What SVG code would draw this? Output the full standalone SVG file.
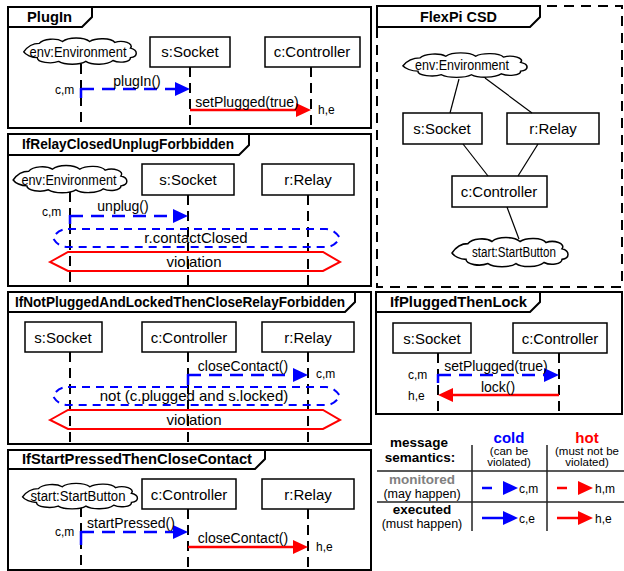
<svg xmlns="http://www.w3.org/2000/svg" xmlns:xlink="http://www.w3.org/1999/xlink" width="624" height="571" viewBox="0 0 624 571">
<style>
text{font-family:"Liberation Sans",Arial,sans-serif;fill:#000}
.frame{fill:none;stroke:#000;stroke-width:2}
.dframe{fill:none;stroke:#000;stroke-width:2;stroke-dasharray:10 7}
.ll{stroke:#000;stroke-width:2;stroke-dasharray:10 6;fill:none}
.node{fill:#fff;stroke:#000;stroke-width:1.5}
.cloud{fill:#fff;stroke:#000;stroke-width:1.5}
.lbl{font-size:15px}
.cl{font-size:14px}
.msg{font-size:14px}
.sm{font-size:12px}
.title{font-weight:bold;font-size:14px}
.cold{stroke:#00f;stroke-width:2.5;stroke-dasharray:13 8;fill:none}
.coldv{stroke:#00f;stroke-width:2.5;fill:none}
.hot{stroke:#f00;stroke-width:2.5;fill:none}
.cond{fill:none;stroke:#00f;stroke-width:2;stroke-dasharray:8 6}
.viol{fill:none;stroke:#f00;stroke-width:2}
.edge{stroke:#000;stroke-width:1.2;fill:none}
.sep{stroke:#222;stroke-width:1.5}
.mid{text-anchor:middle}
.par{font-size:11.5px}
.hd{font-weight:bold;font-size:13.5px}
.sub{font-size:12.5px}
</style>
<defs>
<marker id="ab" markerUnits="userSpaceOnUse" markerWidth="16" markerHeight="14" refX="0" refY="7" orient="auto" overflow="visible"><path d="M0,0 L15,7 L0,14 z" fill="#00f"/></marker>
<marker id="ar" markerUnits="userSpaceOnUse" markerWidth="16" markerHeight="14" refX="0" refY="7" orient="auto" overflow="visible"><path d="M0,0 L15,7 L0,14 z" fill="#f00"/></marker>
<path id="cloudp" d="M-58,1 C-54,-5 -48,-8 -42,-8 C-38,-13 -24,-14 -18,-10 C-12,-15 4,-15 10,-10 C16,-14 32,-14 36,-9 C44,-12 56,-8 52,-3 C60,-1 60,6 52,7 C52,12 40,13 34,10 C28,15 12,15 6,11 C0,15 -16,15 -22,11 C-30,14 -44,12 -44,7 C-50,7 -56,4 -58,1 Z"/>
</defs>
<rect width="624" height="571" fill="#fff"/>

<!-- Frames -->
<g id="frame-plugin">
<rect class="frame" x="8" y="7" width="363" height="121"/>
<path class="frame" d="M8,27 H82 L92,17 V7"/>
<text class="title" x="27" y="22" textLength="45" lengthAdjust="spacingAndGlyphs">PlugIn</text>
</g>
<g id="frame-relay">
<rect class="frame" x="8" y="134" width="363" height="152"/>
<path class="frame" d="M8,155 H239 L249,145 V134"/>
<text class="title" x="22" y="149" textLength="212" lengthAdjust="spacingAndGlyphs">IfRelayClosedUnplugForbbidden</text>
</g>
<g id="frame-notplugged">
<rect class="frame" x="8" y="292" width="363" height="152"/>
<path class="frame" d="M8,312 H345 L355,302 V292"/>
<text class="title" x="15" y="307" textLength="330" lengthAdjust="spacingAndGlyphs">IfNotPluggedAndLockedThenCloseRelayForbidden</text>
</g>
<g id="frame-start">
<rect class="frame" x="8" y="450" width="363" height="120"/>
<path class="frame" d="M8,469 H255 L265,459 V450"/>
<text class="title" x="22" y="464" textLength="230" lengthAdjust="spacingAndGlyphs">IfStartPressedThenCloseContact</text>
</g>
<g id="frame-csd">
<rect class="dframe" x="377" y="6" width="245" height="281"/>
<path class="frame" d="M377,27 H530 L540,17 V6 H377 Z"/>
<text class="title" x="420" y="22" textLength="77" lengthAdjust="spacingAndGlyphs">FlexPi CSD</text>
</g>
<g id="frame-lock">
<rect class="frame" x="376" y="292" width="246" height="122"/>
<path class="frame" d="M376,312 H530 L540,302 V292"/>
<text class="title" x="390" y="307" textLength="137" lengthAdjust="spacingAndGlyphs">IfPluggedThenLock</text>
</g>

<!-- Lifelines -->
<g id="lifelines">
<line class="ll" x1="81" y1="64" x2="81" y2="128"/>
<line class="ll" x1="190" y1="67" x2="190" y2="128"/>
<line class="ll" x1="311" y1="67" x2="311" y2="128"/>
<line class="ll" x1="70" y1="192" x2="70" y2="285"/>
<line class="ll" x1="188" y1="195" x2="188" y2="285"/>
<line class="ll" x1="308" y1="195" x2="308" y2="285"/>
<line class="ll" x1="70" y1="352" x2="70" y2="443"/>
<line class="ll" x1="188" y1="352" x2="188" y2="443"/>
<line class="ll" x1="308" y1="352" x2="308" y2="443"/>
<line class="ll" x1="81" y1="507" x2="81" y2="569"/>
<line class="ll" x1="188" y1="509" x2="188" y2="569"/>
<line class="ll" x1="308" y1="509" x2="308" y2="569"/>
<line class="ll" x1="438" y1="353" x2="438" y2="413"/>
<line class="ll" x1="559" y1="353" x2="559" y2="413"/>
</g>

<!-- Nodes: PlugIn -->
<g id="p-env"><use xlink:href="#cloudp" class="cloud" transform="translate(80,51) scale(0.97,0.95)"/><text class="cl mid" x="78" y="57" textLength="97" lengthAdjust="spacingAndGlyphs">env:Environment</text></g>
<g id="p-socket"><rect class="node" x="150" y="37" width="80" height="30"/><text class="lbl mid" x="190" y="57">s:Socket</text></g>
<g id="p-controller"><rect class="node" x="265" y="37" width="95" height="30"/><text class="lbl mid" x="312" y="57">c:Controller</text></g>

<!-- Nodes: IfRelayClosedUnplugForbbidden -->
<g id="r-env"><use xlink:href="#cloudp" class="cloud" transform="translate(70,179) scale(0.98,0.98)"/><text class="cl mid" x="69" y="185" textLength="95" lengthAdjust="spacingAndGlyphs">env:Environment</text></g>
<g id="r-socket"><rect class="node" x="142" y="164" width="92" height="31"/><text class="lbl mid" x="188" y="185">s:Socket</text></g>
<g id="r-relay"><rect class="node" x="262" y="164" width="92" height="31"/><text class="lbl mid" x="308" y="185">r:Relay</text></g>
<g id="r-cond"><path class="cond" d="M68,229 H326 Q334,229 340,238 Q334,247 326,247 H68 Q58,247 53,238 Q58,229 68,229 Z"/><text class="lbl mid" x="196" y="243">r.contactClosed</text></g>
<g id="r-viol"><polygon class="viol" points="50,262 68,252 323,252 340,262 323,271 68,271"/><text class="lbl mid" x="194" y="267">violation</text></g>

<!-- Nodes: IfNotPluggedAndLockedThenCloseRelayForbidden -->
<g id="n-socket"><rect class="node" x="25" y="322" width="77" height="30"/><text class="lbl mid" x="63" y="343">s:Socket</text></g>
<g id="n-controller"><rect class="node" x="142" y="322" width="94" height="30"/><text class="lbl mid" x="189" y="343">c:Controller</text></g>
<g id="n-relay"><rect class="node" x="262" y="322" width="92" height="30"/><text class="lbl mid" x="308" y="343">r:Relay</text></g>
<g id="n-cond"><path class="cond" d="M68,387 H326 Q334,387 340,396 Q334,405 326,405 H68 Q58,405 53,396 Q58,387 68,387 Z"/><text class="lbl mid" x="194" y="401">not (c.plugged and s.locked)</text></g>
<g id="n-viol"><polygon class="viol" points="50,420 68,410 323,410 340,420 323,429 68,429"/><text class="lbl mid" x="194" y="425">violation</text></g>

<!-- Nodes: IfStartPressedThenCloseContact -->
<g id="s-start"><use xlink:href="#cloudp" class="cloud" transform="translate(80,496) scale(0.99,0.92)"/><text class="cl mid" x="78" y="501" textLength="95" lengthAdjust="spacingAndGlyphs">start:StartButton</text></g>
<g id="s-controller"><rect class="node" x="142" y="479" width="94" height="30"/><text class="lbl mid" x="189" y="500">c:Controller</text></g>
<g id="s-relay"><rect class="node" x="262" y="479" width="92" height="30"/><text class="lbl mid" x="308" y="500">r:Relay</text></g>

<!-- Nodes: FlexPi CSD -->
<g id="c-env"><use xlink:href="#cloudp" class="cloud" transform="translate(465,65) scale(1.07,0.88)"/><text class="cl mid" x="462" y="70" textLength="94" lengthAdjust="spacingAndGlyphs">env:Environment</text></g>
<g id="c-socket"><rect class="node" x="403" y="113" width="79" height="31"/><text class="lbl mid" x="442" y="134">s:Socket</text></g>
<g id="c-relay"><rect class="node" x="507" y="113" width="92" height="31"/><text class="lbl mid" x="553" y="134">r:Relay</text></g>
<g id="c-controller"><rect class="node" x="452" y="176" width="95" height="31"/><text class="lbl mid" x="499" y="197">c:Controller</text></g>
<g id="c-start"><use xlink:href="#cloudp" class="cloud" transform="translate(510,252) scale(1.0,1.05)"/><text class="cl mid" x="514" y="257" textLength="84" lengthAdjust="spacingAndGlyphs">start:StartButton</text></g>

<!-- Nodes: IfPluggedThenLock -->
<g id="l-socket"><rect class="node" x="393" y="323" width="78" height="30"/><text class="lbl mid" x="432" y="344">s:Socket</text></g>
<g id="l-controller"><rect class="node" x="513" y="323" width="94" height="30"/><text class="lbl mid" x="560" y="344">c:Controller</text></g>

<!-- Connectors -->
<g id="connectors">
<!-- PlugIn -->
<line class="coldv" x1="81" y1="88" x2="81" y2="98"/>
<line class="cold" x1="81" y1="89" x2="175" y2="89" marker-end="url(#ab)"/>
<text class="msg mid" x="137" y="86">plugIn()</text>
<text class="sm" x="55" y="94">c,m</text>
<line class="hot" x1="190" y1="110" x2="296" y2="110" marker-end="url(#ar)"/>
<text class="msg mid" x="247" y="107">setPlugged(true)</text>
<text class="sm" x="318" y="114">h,e</text>
<!-- IfRelayClosedUnplugForbbidden -->
<line class="coldv" x1="70" y1="215" x2="70" y2="224"/>
<line class="cold" x1="70" y1="216" x2="173" y2="216" marker-end="url(#ab)"/>
<text class="msg mid" x="123" y="211">unplug()</text>
<text class="sm" x="42" y="216">c,m</text>
<!-- IfNotPlugged -->
<line class="coldv" x1="188" y1="374" x2="188" y2="385"/>
<line class="cold" x1="188" y1="375" x2="293" y2="375" marker-end="url(#ab)"/>
<text class="msg mid" x="243" y="371">closeContact()</text>
<text class="sm" x="316" y="378">c,m</text>
<!-- IfStartPressed -->
<line class="coldv" x1="81" y1="531" x2="81" y2="545"/>
<line class="cold" x1="81" y1="532" x2="173" y2="532" marker-end="url(#ab)"/>
<text class="msg mid" x="131" y="528">startPressed()</text>
<text class="sm" x="55" y="536">c,m</text>
<line class="hot" x1="188" y1="547" x2="293" y2="547" marker-end="url(#ar)"/>
<text class="msg mid" x="243" y="543">closeContact()</text>
<text class="sm" x="316" y="551">h,e</text>
<!-- IfPluggedThenLock -->
<line class="coldv" x1="438" y1="374" x2="438" y2="383"/>
<line class="cold" x1="438" y1="375" x2="544" y2="375" marker-end="url(#ab)"/>
<text class="msg mid" x="496" y="371">setPlugged(true)</text>
<text class="sm" x="408" y="379">c,m</text>
<line class="hot" x1="559" y1="395" x2="453" y2="395" marker-end="url(#ar)"/>
<text class="msg mid" x="498" y="392">lock()</text>
<text class="sm" x="408" y="400">h,e</text>
<!-- FlexPi CSD links -->
<line class="edge" x1="459" y1="79" x2="450" y2="113"/>
<line class="edge" x1="485" y1="78" x2="532" y2="113"/>
<line class="edge" x1="463" y1="144" x2="488" y2="176"/>
<line class="edge" x1="538" y1="144" x2="518" y2="176"/>
<line class="edge" x1="507" y1="207" x2="519" y2="239"/>
</g>

<!-- Legend -->
<g id="legend">
<line class="sep" x1="472" y1="445" x2="472" y2="531"/>
<line class="sep" x1="547" y1="445" x2="547" y2="531"/>
<line class="sep" x1="377" y1="471" x2="624" y2="471"/>
<line class="sep" x1="377" y1="502" x2="624" y2="502"/>
<text class="mid hd" x="419" y="447">message</text>
<text class="mid hd" x="420" y="462">semantics:</text>
<text class="mid" x="509" y="443" style="font-weight:bold;font-size:15px;fill:#00f">cold</text>
<text class="mid par" x="509" y="455">(can be</text>
<text class="mid par" x="509" y="466">violated)</text>
<text class="mid" x="587" y="443" style="font-weight:bold;font-size:15px;fill:#f00">hot</text>
<text class="mid par" x="587" y="455">(must not be</text>
<text class="mid par" x="587" y="466">violated)</text>
<text class="mid hd" x="422" y="484" style="fill:#808080">monitored</text>
<text class="mid sub" x="422" y="498">(may happen)</text>
<text class="mid hd" x="422" y="514">executed</text>
<text class="mid sub" x="422" y="528">(must happen)</text>
<line class="cold" x1="482" y1="488" x2="503" y2="488" style="stroke-dasharray:10 30" marker-end="url(#ab)"/>
<text class="sm" x="519" y="493">c,m</text>
<line class="hot" x1="557" y1="488" x2="578" y2="488" style="stroke-dasharray:10 30" marker-end="url(#ar)"/>
<text class="sm" x="595" y="493">h,m</text>
<line class="coldv" x1="482" y1="518" x2="503" y2="518" marker-end="url(#ab)"/>
<text class="sm" x="519" y="523">c,e</text>
<line class="hot" x1="557" y1="518" x2="578" y2="518" marker-end="url(#ar)"/>
<text class="sm" x="595" y="523">h,e</text>
</g>
</svg>
